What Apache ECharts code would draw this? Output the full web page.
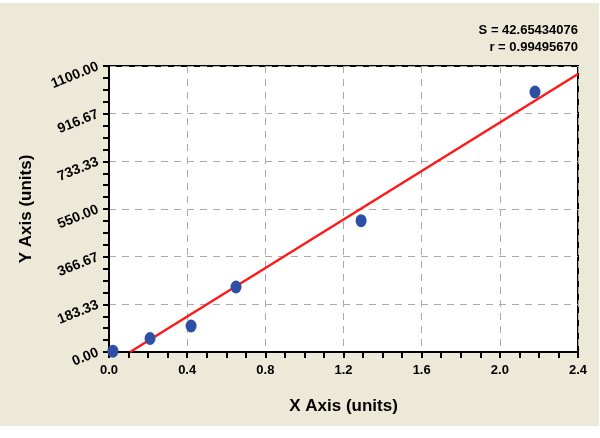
<!DOCTYPE html>
<html>
<head>
<meta charset="utf-8">
<script src="https://cdn.jsdelivr.net/npm/echarts@6/dist/echarts.min.js"></script>
<style>
  html, body { margin: 0; padding: 0; background: #fff; }
  #chart { width: 600px; height: 438px; }
</style>
</head>
<body>
<div id="chart"></div>
<script>
// measured points (x, y)
var pointX = [0.02, 0.21, 0.42, 0.65, 1.29, 2.18];
var pointY = [3, 52, 100, 250, 505, 1000];
// fitted line end points
var fitX = [0.108, 2.4];
var fitY = [0, 1069];
var statLines = ['S = 42.65434076', 'r = 0.99495670'];

var font = '"Liberation Sans", Arial, sans-serif';
var chart = echarts.init(document.getElementById('chart'));

var option = {
  backgroundColor: '#ffffff',
  animation: false,
  graphic: [
    { type: 'rect', z: -10, shape: { x: 0, y: 3, width: 599, height: 423 }, style: { fill: '#ECE9D8' } },
    { type: 'text', right: 22, top: 24, style: { text: statLines[0], font: 'bold 13px ' + font, fill: '#000', textAlign: 'right' } },
    { type: 'text', right: 22, top: 41, style: { text: statLines[1], font: 'bold 13px ' + font, fill: '#000', textAlign: 'right' } }
  ],
  grid: {
    left: 109, right: 22, top: 66, bottom: 86,
    show: true, backgroundColor: '#ffffff', borderColor: '#000', borderWidth: 2
  },
  xAxis: {
    type: 'value', min: 0, max: 2.4, interval: 0.4,
    name: 'X Axis (units)', nameLocation: 'middle', nameGap: 46,
    nameTextStyle: { fontFamily: font, fontWeight: 'bold', fontSize: 17, color: '#000' },
    axisLine: { lineStyle: { color: '#000', width: 2 } },
    axisTick: { show: true, length: 6, lineStyle: { color: '#000', width: 2 } },
    minorTick: { show: true, splitNumber: 4, length: 6, lineStyle: { color: '#000', width: 2 } },
    axisLabel: { fontFamily: font, fontWeight: 'bold', fontSize: 13, color: '#000', margin: 12,
      formatter: function (v) { return v.toFixed(1); } },
    splitLine: { show: true, lineStyle: { color: '#aaa', type: [7, 6], width: 1 } }
  },
  yAxis: {
    type: 'value', min: 0, max: 1100, interval: 1100 / 6,
    name: 'Y Axis (units)', nameLocation: 'middle', nameGap: 74,
    nameTextStyle: { fontFamily: font, fontWeight: 'bold', fontSize: 17, color: '#000' },
    axisLine: { lineStyle: { color: '#000', width: 2 } },
    axisTick: { show: true, length: 6, lineStyle: { color: '#000', width: 2 } },
    minorTick: { show: true, splitNumber: 4, length: 6, lineStyle: { color: '#000', width: 2 } },
    axisLabel: { fontFamily: font, fontWeight: 'bold', fontSize: 14, color: '#000', margin: 11, rotate: 22,
      formatter: function (v) { return v.toFixed(2); } },
    splitLine: { show: true, lineStyle: { color: '#aaa', type: [7, 6], width: 1 } }
  },
  series: [
    {
      type: 'line',
      data: fitX.map(function (x, i) { return [x, fitY[i]]; }),
      showSymbol: false,
      lineStyle: { color: '#ff1a1a', width: 2.5 },
      z: 2
    },
    {
      type: 'scatter',
      data: pointX.map(function (x, i) { return [x, pointY[i]]; }),
      symbol: 'circle',
      symbolSize: [11, 13],
      itemStyle: { color: '#2f4fa6', opacity: 1 },
      z: 3
    }
  ]
};
chart.setOption(option);
</script>
</body>
</html>
